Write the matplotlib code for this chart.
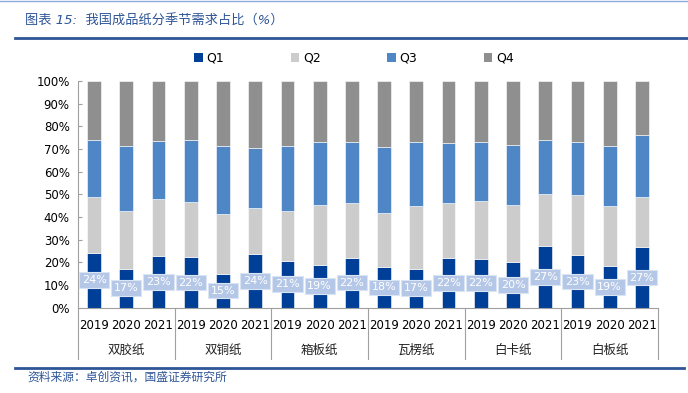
import matplotlib
matplotlib.use('Agg')
import matplotlib.pyplot as plt
import numpy as np
from matplotlib.lines import Line2D
from matplotlib.patches import Patch

plt.rcParams['font.family'] = ['DejaVu Sans', 'Noto Sans CJK SC']

groups = ['双胶纸', '双铜纸', '箱板纸', '瓦楞纸', '白卡纸', '白板纸']
years = ['2019', '2020', '2021']
series_names = ['Q1', 'Q2', 'Q3', 'Q4']

q1 = [24.3, 17.2, 22.7, 22.2, 15.0, 23.6, 20.7, 19.0, 22.1,
      17.9, 17.2, 21.8, 21.6, 20.2, 27.2, 23.1, 18.5, 26.6]
q2 = [24.4, 25.5, 25.1, 24.4, 26.5, 20.2, 22.0, 26.4, 24.2,
      23.9, 27.7, 24.5, 25.3, 25.2, 23.0, 26.5, 26.4, 22.2]
q3 = [25.4, 28.8, 25.7, 27.5, 29.8, 26.8, 28.8, 27.7, 26.8,
      29.2, 28.1, 26.5, 26.1, 26.5, 23.6, 23.6, 26.6, 27.2]
q4 = [25.9, 28.5, 26.5, 25.9, 28.7, 29.4, 28.5, 26.9, 26.9,
      29.0, 27.0, 27.2, 27.0, 28.1, 26.2, 26.8, 28.5, 24.0]

colors = ['#003f98', '#cccccc', '#4f86c6', '#8f8f8f']

W, H = 688, 393
fig = plt.figure(figsize=(W / 100, H / 100), dpi=100)
ax = fig.add_axes([78 / W, 1 - 307.7 / H, 580 / W, 226.7 / H])

n = len(q1)
x = np.arange(n)
bottom = np.zeros(n)
for vals, c, name in zip([q1, q2, q3, q4], colors, series_names):
    v = np.array(vals)
    ax.bar(x, v, width=0.43, bottom=bottom, color=c, edgecolor='white',
           linewidth=0.4, label=name)
    bottom += v

for xi, v in zip(x, q1):
    ax.text(xi, v / 2, f'{int(np.floor(v + 0.5))}%', ha='center', va='center',
            color='white', fontsize=8,
            bbox=dict(boxstyle='square,pad=0.25', fc='#b4c7e7', ec='#dae4f2',
                      lw=0.8))

ax.set_xlim(-0.5, n - 0.5)
ax.set_ylim(0, 100)
ax.set_yticks(np.arange(0, 101, 10))
ax.set_yticklabels([f'{t}%' for t in range(0, 101, 10)], fontsize=8.5)
ax.tick_params(axis='y', direction='in', length=3, color='#a0a0a0', pad=6)
ax.set_xticks(x)
ax.set_xticklabels(years * len(groups), fontsize=8.5)
ax.tick_params(axis='x', length=0, pad=8)

for s in ['top', 'right']:
    ax.spines[s].set_visible(False)
for s in ['left', 'bottom']:
    ax.spines[s].set_color('#a0a0a0')
    ax.spines[s].set_linewidth(0.8)

# group separators and group labels (figure pixel coords)
def fx(px):
    return px / W

def fy(py):
    return 1 - py / H

slot = 580 / n
for g in range(len(groups) + 1):
    xp = 78 + g * 3 * slot
    fig.add_artist(Line2D([fx(xp), fx(xp)], [fy(307.7), fy(358.5)],
                          color='#a0a0a0', lw=0.8))
for g, name in enumerate(groups):
    xc = 78 + (g * 3 + 1.5) * slot
    fig.text(fx(xc), fy(350), name, ha='center', va='center', fontsize=9,
             family=['Noto Sans CJK SC'], color='#222222')

# legend
handles = [Patch(facecolor=c, edgecolor='none') for c in colors]
fig.legend(handles, series_names, loc='center', bbox_to_anchor=(fx(354), fy(58)),
           ncol=4, frameon=False, fontsize=9, handlelength=0.7, handleheight=0.7,
           handletextpad=0.3, columnspacing=5.3)

# title, source, decorative lines
blue = '#2e5597'
fig.add_artist(Line2D([0, 1], [fy(0.5), fy(0.5)], color='#8faadc', lw=1))
fig.text(fx(25), fy(21), '图表 15:  我国成品纸分季节需求占比（%）', ha='left', va='center',
         fontsize=9.5, style='italic', color=blue)
fig.add_artist(Line2D([fx(15), 1], [fy(38), fy(38)], color=blue, lw=2))
fig.add_artist(Line2D([fx(15), fx(684)], [fy(367.7), fy(367.7)], color=blue, lw=2))
fig.text(fx(27), fy(377), '资料来源：卓创资讯，国盛证券研究所', ha='left', va='center',
         fontsize=8.5, style='italic', color=blue)

fig.savefig('out.png', dpi=100)
